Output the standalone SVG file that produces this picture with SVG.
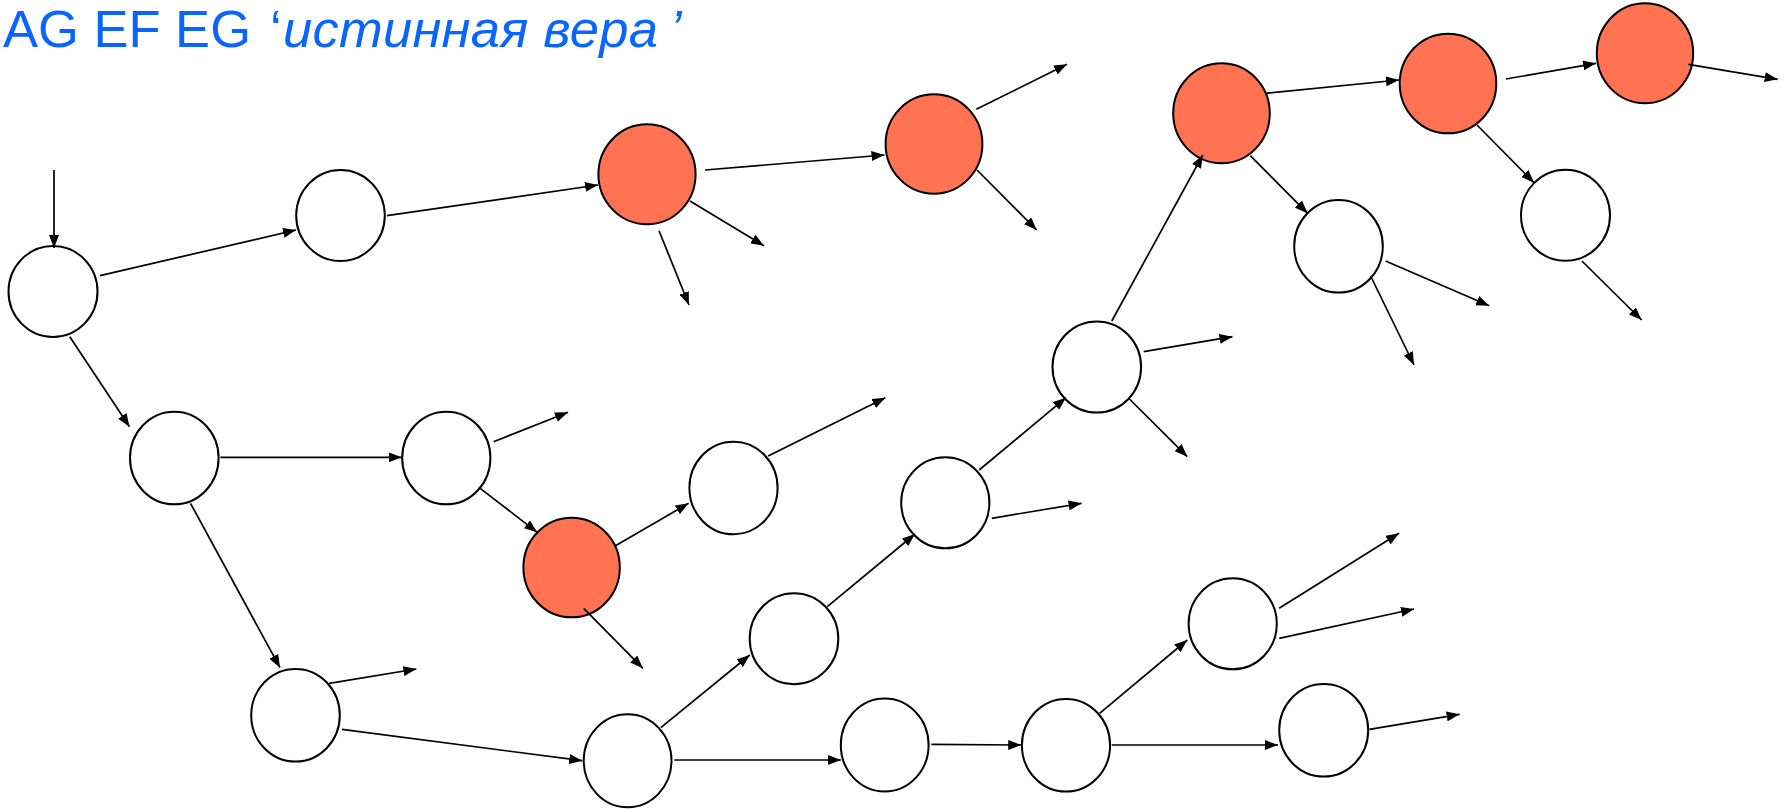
<svg xmlns="http://www.w3.org/2000/svg" width="1787" height="809" viewBox="0 0 1787 809">
<defs>
<style>
.n{fill:#ffffff;stroke:#000;stroke-width:2}
.o{fill:#ff7352;stroke:#000;stroke-width:2}
.e line{stroke:#000;stroke-width:1.7;marker-end:url(#ah)}
.t{font-family:"Liberation Sans",Arial,sans-serif;font-size:52.5px;fill:#0a64ff}
</style>
<marker id="ah" markerUnits="userSpaceOnUse" markerWidth="13" markerHeight="10" refX="13" refY="5" orient="auto">
<path d="M0,0 L13,5 L0,10 z" fill="#000"/>
</marker>
</defs>
<rect width="1787" height="809" fill="#fff"/>
<text class="t" x="3" y="47">AG EF EG <tspan x="270">‘</tspan><tspan x="283" font-style="italic" textLength="375" lengthAdjust="spacing">истинная вера</tspan><tspan x="670" font-style="italic">’</tspan></text>
<g id="nodes">
<ellipse id="A" class="n" cx="53" cy="291.5" rx="44.5" ry="45.5"/>
<ellipse id="C" class="n" cx="340.5" cy="215.5" rx="44.3" ry="45.5"/>
<ellipse id="D" class="o" cx="647" cy="174.3" rx="48.6" ry="50"/>
<ellipse id="E" class="o" cx="934" cy="144" rx="48.4" ry="49.7"/>
<ellipse id="F" class="o" cx="1221.5" cy="113.3" rx="48.3" ry="50"/>
<ellipse id="G" class="o" cx="1448" cy="83.5" rx="48.3" ry="49.8"/>
<ellipse id="H" class="o" cx="1645" cy="53.3" rx="48.2" ry="50"/>
<ellipse id="I" class="n" cx="1338.5" cy="246.3" rx="44.3" ry="46.3"/>
<ellipse id="J" class="n" cx="1565.5" cy="215.3" rx="44.5" ry="45.5"/>
<ellipse id="K" class="n" cx="1096.8" cy="367" rx="44.3" ry="45.6"/>
<ellipse id="L" class="n" cx="945.3" cy="502.8" rx="44.1" ry="45.5"/>
<ellipse id="M" class="n" cx="794" cy="638.7" rx="44.3" ry="45.5"/>
<ellipse id="N" class="o" cx="571.6" cy="567.5" rx="48.2" ry="49.8"/>
<ellipse id="O" class="n" cx="733.5" cy="488" rx="44.1" ry="46.3"/>
<ellipse id="P" class="n" cx="627.6" cy="760.7" rx="43.9" ry="46.5"/>
<ellipse id="Q" class="n" cx="884.7" cy="745" rx="43.9" ry="46.5"/>
<ellipse id="R" class="n" cx="1066" cy="745.3" rx="44.1" ry="46.3"/>
<ellipse id="S" class="n" cx="1232.7" cy="623.8" rx="44.1" ry="45.5"/>
<ellipse id="T" class="n" cx="1323.7" cy="730.3" rx="44.5" ry="46.3"/>
<ellipse id="B" class="n" cx="174.3" cy="458" rx="44.3" ry="46.3"/>
<ellipse id="U" class="n" cx="446.3" cy="458" rx="44.1" ry="46.3"/>
<ellipse id="V" class="n" cx="295.5" cy="715.3" rx="44.3" ry="46.3"/>
</g>
<g id="connectors" class="e">
<line x1="54" y1="170" x2="54" y2="248"/>
<line x1="100" y1="275.7" x2="296" y2="230"/>
<line x1="387" y1="215.7" x2="598" y2="185"/>
<line x1="705" y1="170" x2="884.5" y2="155"/>
<line x1="690" y1="201" x2="764" y2="245.7"/>
<line x1="659" y1="230.7" x2="689" y2="305"/>
<line x1="976.3" y1="109.3" x2="1067" y2="64.3"/>
<line x1="977" y1="170" x2="1036.7" y2="230"/>
<line x1="1111.8" y1="321" x2="1202.8" y2="155"/>
<line x1="1265.8" y1="93.3" x2="1399" y2="80"/>
<line x1="1505.9" y1="79" x2="1596" y2="63.3"/>
<line x1="1688.3" y1="64.3" x2="1777.7" y2="79.3"/>
<line x1="1250.3" y1="155.7" x2="1307.6" y2="213.3"/>
<line x1="1385.6" y1="261" x2="1489.2" y2="305.7"/>
<line x1="1370.6" y1="276" x2="1414" y2="365"/>
<line x1="1477" y1="125" x2="1534" y2="182.7"/>
<line x1="1581.9" y1="261" x2="1641.6" y2="320"/>
<line x1="1143.7" y1="351.7" x2="1232.5" y2="336.7"/>
<line x1="1129.4" y1="399" x2="1187.3" y2="456.7"/>
<line x1="979.2" y1="470" x2="1066" y2="397.7"/>
<line x1="991.8" y1="518.3" x2="1081.6" y2="503.3"/>
<line x1="827.3" y1="606.7" x2="915" y2="534"/>
<line x1="615" y1="546" x2="688.6" y2="503.3"/>
<line x1="768.2" y1="456" x2="885.3" y2="397.7"/>
<line x1="583.7" y1="608.3" x2="642.9" y2="668.3"/>
<line x1="660.8" y1="727.7" x2="749.8" y2="655"/>
<line x1="674.3" y1="760" x2="840.8" y2="760"/>
<line x1="931.4" y1="744.3" x2="1021.2" y2="745"/>
<line x1="1099.6" y1="713.3" x2="1187.3" y2="640"/>
<line x1="1111.8" y1="745" x2="1278" y2="745"/>
<line x1="1279.2" y1="608.3" x2="1399" y2="533.3"/>
<line x1="1279.2" y1="638.3" x2="1414" y2="609"/>
<line x1="1369.4" y1="729.3" x2="1459.6" y2="714.3"/>
<line x1="69.8" y1="336.7" x2="129.5" y2="426.7"/>
<line x1="220.4" y1="457.3" x2="401.7" y2="457.3"/>
<line x1="493.6" y1="441.7" x2="568" y2="412.3"/>
<line x1="478.9" y1="487.3" x2="537.2" y2="532.3"/>
<line x1="190.5" y1="503.3" x2="280" y2="667.7"/>
<line x1="329.2" y1="683.3" x2="416.4" y2="669"/>
<line x1="342" y1="729.3" x2="582.2" y2="760.7"/>
</g>
</svg>
